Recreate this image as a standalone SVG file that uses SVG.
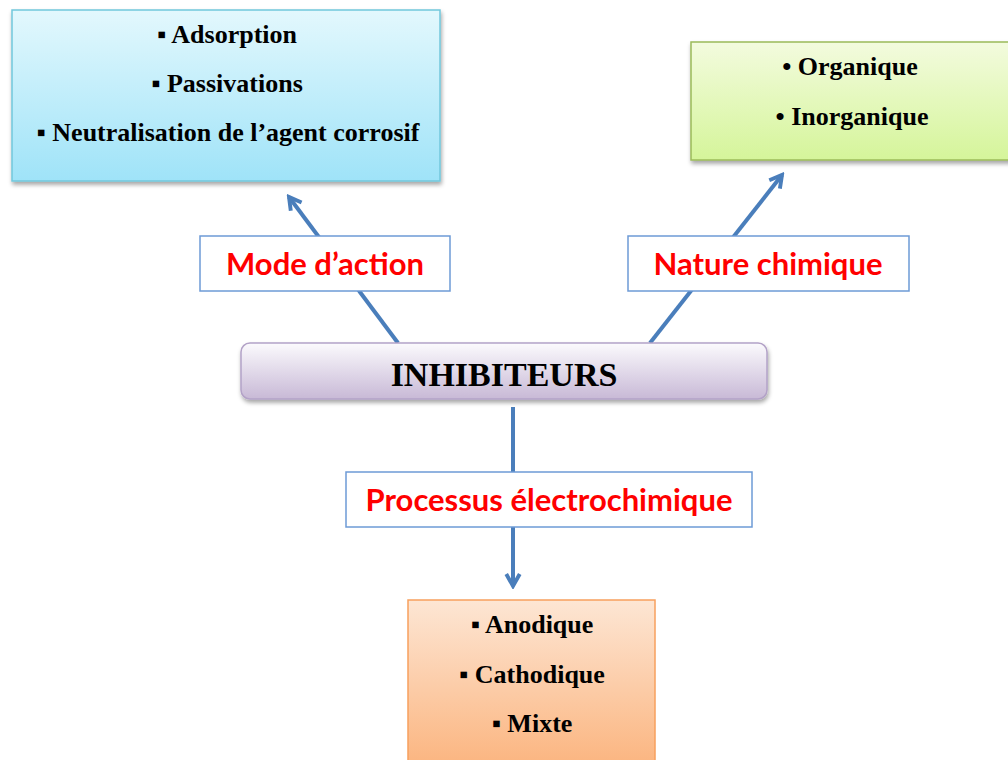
<svg xmlns="http://www.w3.org/2000/svg" width="1008" height="760" viewBox="0 0 1008 760">
<defs>
<linearGradient id="gBlue" x1="0" y1="0" x2="0" y2="1"><stop offset="0" stop-color="#e3f8fd"/><stop offset="1" stop-color="#9fe3f8"/></linearGradient>
<linearGradient id="gGreen" x1="0" y1="0" x2="0" y2="1"><stop offset="0" stop-color="#f3fbde"/><stop offset="1" stop-color="#d5f59a"/></linearGradient>
<linearGradient id="gPurple" x1="0" y1="0" x2="0" y2="1"><stop offset="0" stop-color="#fbfafd"/><stop offset="1" stop-color="#c8b9d6"/></linearGradient>
<linearGradient id="gOrange" x1="0" y1="0" x2="0" y2="1"><stop offset="0" stop-color="#fde6d4"/><stop offset="1" stop-color="#fbb27b"/></linearGradient>
<filter id="sh" x="-5%" y="-10%" width="110%" height="130%"><feDropShadow dx="1" dy="3" stdDeviation="2" flood-color="#000" flood-opacity="0.35"/></filter>
<marker id="arr" viewBox="0 0 12 12" refX="10" refY="6" markerWidth="4.5" markerHeight="4.5" orient="auto" markerUnits="strokeWidth">
<path d="M2,1.5 L10,6 L2,10.5" fill="none" stroke="#4a7ebb" stroke-width="2.6" stroke-linejoin="miter"/>
</marker>
</defs>
<style>
.item{font-family:"Liberation Serif","Times New Roman",serif;font-weight:bold;font-size:26px;fill:#000;text-anchor:middle}
.lbl{font-family:Lato,"Liberation Sans",sans-serif;font-weight:bold;font-size:31px;fill:#ff0000;text-anchor:middle}
.lblbox{fill:#fff;stroke:#6d9bd6;stroke-width:1.5}
.conn{stroke:#4a7ebb;stroke-width:4;fill:none}
</style>
<g id="connectors">
<line class="conn" x1="398" y1="343" x2="289" y2="197" marker-end="url(#arr)"/>
<line class="conn" x1="650" y1="343" x2="782" y2="175" marker-end="url(#arr)"/>
<line class="conn" x1="513" y1="407" x2="513" y2="586" marker-end="url(#arr)"/>
</g>
<g id="mode-action-list">
<rect x="12" y="10" width="428" height="171" fill="url(#gBlue)" stroke="#72c7dc" stroke-width="1.5" filter="url(#sh)"/>
<text class="item" x="227" y="43">▪ Adsorption</text>
<text class="item" x="227" y="92">▪ Passivations</text>
<text class="item" x="228" y="141">▪ Neutralisation de l’agent corrosif</text>
</g>
<g id="nature-list">
<rect x="691" y="42" width="330" height="118" fill="url(#gGreen)" stroke="#9bbb59" stroke-width="1.5" filter="url(#sh)"/>
<text class="item" x="850" y="75">• Organique</text>
<text class="item" x="852" y="125">• Inorganique</text>
</g>
<g id="inhibiteurs">
<rect x="241" y="343" width="526" height="56" rx="9" fill="url(#gPurple)" stroke="#b3a2c7" stroke-width="1.5" filter="url(#sh)"/>
<text x="504" y="386" style="font-family:'Liberation Serif','Times New Roman',serif;font-weight:bold;font-size:34px;fill:#000;text-anchor:middle">INHIBITEURS</text>
</g>
<g id="mode-action">
<rect class="lblbox" x="200" y="236" width="250" height="55"/>
<text class="lbl" x="325" y="275">Mode d’action</text>
</g>
<g id="nature-chimique">
<rect class="lblbox" x="628" y="236" width="281" height="55"/>
<text class="lbl" x="768" y="275">Nature chimique</text>
</g>
<g id="processus">
<rect class="lblbox" x="346" y="472" width="406" height="55"/>
<text class="lbl" x="549" y="511">Processus électrochimique</text>
</g>
<g id="processus-list">
<rect x="408" y="600" width="247" height="175" fill="url(#gOrange)" stroke="#f7a05e" stroke-width="1.5"/>
<text class="item" x="532" y="633">▪ Anodique</text>
<text class="item" x="532" y="683">▪ Cathodique</text>
<text class="item" x="532" y="732">▪ Mixte</text>
</g>
</svg>
